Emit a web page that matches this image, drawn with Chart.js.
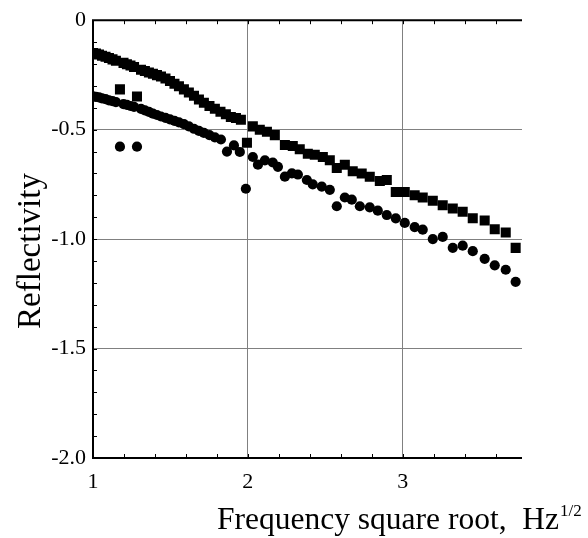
<!DOCTYPE html>
<html>
<head>
<meta charset="utf-8">
<title>Reflectivity</title>
<script src="https://cdn.jsdelivr.net/npm/chart.js@4/dist/chart.umd.min.js"></script>
<style>
  html, body { margin: 0; padding: 0; background: #fff; }
  #wrap { width: 588px; height: 538px; }
</style>
</head>
<body>
<div id="wrap"><canvas id="reflChart" width="588" height="538"></canvas></div>
<script>
// square markers (upper series)
const squareX = [1.000, 1.019, 1.039, 1.058, 1.081, 1.103, 1.126, 1.148, 1.174, 1.197,
  1.219, 1.242, 1.265, 1.284, 1.310, 1.335, 1.361, 1.387, 1.413, 1.439,
  1.468, 1.497, 1.526, 1.555, 1.587, 1.619, 1.652, 1.684, 1.716, 1.752,
  1.787, 1.823, 1.858, 1.890, 1.923, 1.955, 1.994, 2.032, 2.077, 2.123,
  2.174, 2.239, 2.290, 2.335, 2.387, 2.432, 2.484, 2.529, 2.574, 2.626,
  2.677, 2.735, 2.787, 2.852, 2.897, 2.955, 3.013, 3.077, 3.129, 3.194,
  3.258, 3.323, 3.387, 3.452, 3.529, 3.594, 3.665, 3.729];
const squareY = [-0.150, -0.152, -0.157, -0.162, -0.167, -0.173, -0.179, -0.185, -0.316, -0.195,
  -0.201, -0.207, -0.214, -0.349, -0.226, -0.232, -0.239, -0.245, -0.251, -0.257,
  -0.266, -0.278, -0.290, -0.302, -0.316, -0.330, -0.345, -0.362, -0.377, -0.392,
  -0.405, -0.418, -0.430, -0.442, -0.447, -0.455, -0.560, -0.485, -0.500, -0.510,
  -0.525, -0.570, -0.575, -0.590, -0.610, -0.615, -0.625, -0.640, -0.675, -0.660,
  -0.690, -0.700, -0.715, -0.735, -0.730, -0.785, -0.785, -0.800, -0.810, -0.825,
  -0.845, -0.860, -0.875, -0.905, -0.915, -0.955, -0.970, -1.040];

// round markers (lower series)
const circleX = [1.000, 1.019, 1.039, 1.058, 1.081, 1.103, 1.126, 1.148, 1.174, 1.197,
  1.219, 1.242, 1.265, 1.284, 1.310, 1.335, 1.361, 1.387, 1.413, 1.439,
  1.468, 1.497, 1.526, 1.555, 1.587, 1.619, 1.652, 1.684, 1.716, 1.752,
  1.787, 1.826, 1.865, 1.910, 1.948, 1.987, 2.032, 2.065, 2.110, 2.161,
  2.194, 2.239, 2.284, 2.323, 2.381, 2.419, 2.477, 2.529, 2.574, 2.626,
  2.671, 2.723, 2.787, 2.839, 2.897, 2.955, 3.013, 3.077, 3.129, 3.194,
  3.258, 3.323, 3.387, 3.452, 3.529, 3.594, 3.665, 3.729];
const circleY = [-0.348, -0.350, -0.353, -0.357, -0.361, -0.366, -0.370, -0.374, -0.578, -0.383,
  -0.387, -0.392, -0.396, -0.578, -0.405, -0.412, -0.419, -0.427, -0.433, -0.440,
  -0.446, -0.453, -0.460, -0.467, -0.475, -0.485, -0.496, -0.506, -0.515, -0.525,
  -0.535, -0.545, -0.600, -0.572, -0.602, -0.770, -0.625, -0.660, -0.640, -0.650,
  -0.670, -0.715, -0.700, -0.705, -0.730, -0.750, -0.760, -0.775, -0.850, -0.810,
  -0.820, -0.850, -0.855, -0.870, -0.890, -0.905, -0.926, -0.945, -0.957, -1.000,
  -0.990, -1.040, -1.030, -1.055, -1.090, -1.120, -1.140, -1.195];

const xTicks = [1, 2, 3];
const yTicks = [0, -0.5, -1.0, -1.5, -2.0];
const yTickLabels = ['0', '-0.5', '-1.0', '-1.5', '-2.0'];

const SERIF = '"Liberation Serif", "Times New Roman", serif';

function toPoints(xs, ys) {
  return xs.map((v, i) => ({ x: v, y: ys[i] }));
}

// frame (left, top, bottom), inner minor ticks and the two axis titles
const framePlugin = {
  id: 'framePlugin',
  afterDatasetsDraw(chart) {
    const { ctx, chartArea: a, scales: { x, y } } = chart;
    ctx.save();
    ctx.strokeStyle = '#000';
    ctx.lineWidth = 1;
    ctx.beginPath();
    for (let k = 1; k < 20; k++) {
      const py = Math.round(y.getPixelForValue(-k / 10)) + 0.5;
      ctx.moveTo(a.left, py);
      ctx.lineTo(a.left + 4, py);
    }
    for (let k = 6; k / 5 < x.max; k++) {
      const px = Math.round(x.getPixelForValue(k / 5)) + 0.5;
      ctx.moveTo(px, a.top);
      ctx.lineTo(px, a.top + 4);
      ctx.moveTo(px, a.bottom);
      ctx.lineTo(px, a.bottom - 4);
    }
    ctx.stroke();

    ctx.lineWidth = 2;
    ctx.beginPath();
    ctx.moveTo(a.right, a.top);
    ctx.lineTo(a.left, a.top);
    ctx.lineTo(a.left, a.bottom);
    ctx.lineTo(a.right, a.bottom);
    ctx.stroke();
    ctx.restore();
  },
  afterDraw(chart) {
    const { ctx } = chart;
    ctx.save();
    ctx.fillStyle = '#000';
    ctx.textBaseline = 'alphabetic';

    // x title with superscript exponent
    const main = 'Frequency square root,  Hz';
    ctx.font = '31.5px ' + SERIF;
    ctx.textAlign = 'left';
    const w = ctx.measureText(main).width;
    const x0 = 217;
    ctx.fillText(main, x0, 529);
    ctx.font = '17px ' + SERIF;
    ctx.fillText('1/2', x0 + w + 1, 516);

    // y title
    ctx.translate(40, 251);
    ctx.rotate(-Math.PI / 2);
    ctx.font = '33px ' + SERIF;
    ctx.textAlign = 'center';
    ctx.fillText('Reflectivity', 0, 0);
    ctx.restore();
  }
};

const gridColor = (c) => {
  const v = c.tick && c.tick.value;
  return (v === 1 || v === 0 || v === -2) ? 'rgba(0,0,0,0)' : '#808080';
};

new Chart(document.getElementById('reflChart'), {
  type: 'scatter',
  data: {
    datasets: [
      {
        label: 'squares',
        data: toPoints(squareX, squareY),
        pointStyle: 'rect',
        pointRadius: 7.1,
        borderWidth: 0,
        backgroundColor: '#000',
        borderColor: '#000'
      },
      {
        label: 'circles',
        data: toPoints(circleX, circleY),
        pointStyle: 'circle',
        pointRadius: 5.1,
        borderWidth: 0,
        backgroundColor: '#000',
        borderColor: '#000'
      }
    ]
  },
  options: {
    responsive: false,
    animation: false,
    events: [],
    layout: { padding: { left: 0, top: 13, right: 66, bottom: 0 } },
    plugins: {
      legend: { display: false },
      tooltip: { enabled: false }
    },
    scales: {
      x: {
        type: 'linear',
        min: 1,
        max: 3.77,
        afterFit: (s) => { s.height = 80; },
        afterBuildTicks: (s) => { s.ticks = xTicks.map(v => ({ value: v })); },
        grid: { color: gridColor, lineWidth: 1, drawTicks: false },
        border: { display: false },
        ticks: {
          padding: 11,
          color: '#000',
          font: { family: SERIF, size: 22 },
          callback: (v) => String(v)
        }
      },
      y: {
        type: 'linear',
        min: -2,
        max: 0,
        afterFit: (s) => { s.width = 93; },
        afterBuildTicks: (s) => { s.ticks = yTicks.map(v => ({ value: v })); },
        grid: { color: gridColor, lineWidth: 1, drawTicks: false },
        border: { display: false },
        ticks: {
          padding: 7,
          color: '#000',
          font: { family: SERIF, size: 22 },
          callback: (v) => yTickLabels[yTicks.indexOf(v)]
        }
      }
    }
  },
  plugins: [framePlugin]
});
</script>
</body>
</html>
